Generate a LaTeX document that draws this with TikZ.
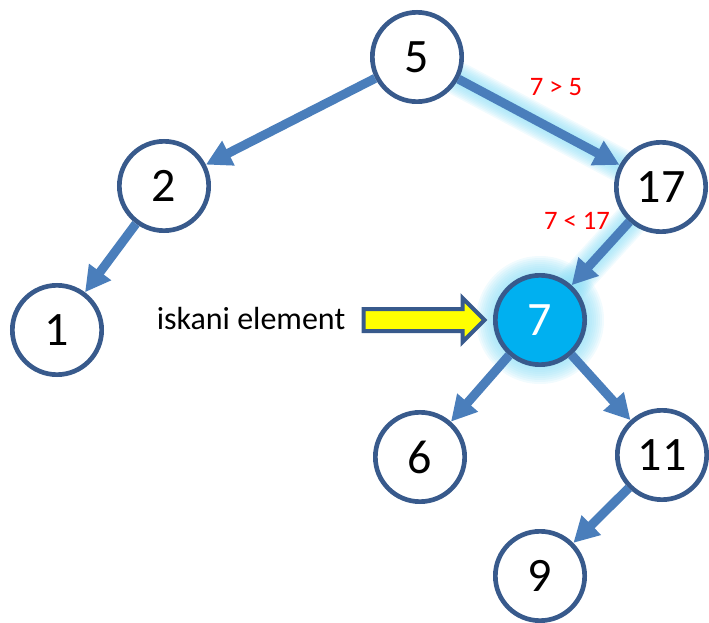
\documentclass[tikz,border=0pt]{standalone}
\usepackage{fontspec}
\setmainfont{Carlito}
\usetikzlibrary{arrows.meta,backgrounds}

\definecolor{ringblue}{RGB}{56,90,140}
\definecolor{edgeblue}{RGB}{74,126,187}
\definecolor{hitblue}{RGB}{0,176,240}
\definecolor{glowcyan}{RGB}{140,222,246}
\definecolor{markyellow}{RGB}{255,255,0}

\tikzset{every picture/.style={line width=0.75pt}}
\tikzset{
  keynode/.style={circle, draw=ringblue, line width=3.5pt, fill=white, minimum size=67pt,
    inner sep=0pt, font=\fontsize{36}{40}\selectfont},
  hitnode/.style={keynode, fill=hitblue, text=white},
  treeedge/.style={draw=edgeblue, line width=6.8pt, -{Triangle[length=19pt,width=19.5pt]}},
  glowedge/.style={draw=glowcyan, line cap=round, line join=round},
  cmplabel/.style={text=red, font=\fontsize{20}{24}\selectfont},
  pointer/.style={draw=ringblue, line width=3pt, fill=markyellow, line join=miter},
}

\begin{document}
\begin{tikzpicture}[x=0.75pt,y=0.75pt,yscale=-1,xscale=1]
\useasboundingbox (0,0) rectangle (709,623);

% Nodes
\node[keynode] (n5) at (417,57) {5};
\node[keynode] (n2) at (164,186) {2};
\node[keynode] (n17) at (661,187) {17};
\node[keynode] (n1) at (57,330) {1};
\node[hitnode] (n7) at (540,320) {7};
\node[keynode] (n6) at (420,457) {6};
\node[keynode] (n11) at (662,455) {11};
\node[keynode] (n9) at (540,576) {9};

% Glow on the search path
\begin{scope}[on background layer]
\foreach \w in {34,31,...,10} {
  \draw[glowedge, line width=\w*0.75pt, opacity=0.12] (n5) -- (n17);
  \draw[glowedge, line width=\w*0.75pt, opacity=0.12] (n17) -- (n7);
}
\foreach \r in {64,62,...,48} {
  \fill[glowcyan, opacity=0.12] (n7) circle[radius=\r];
}
\end{scope}

% Edges
\draw[treeedge] (n5) -- (n2);
\draw[treeedge] (n5) -- (n17);
\draw[treeedge] (n2) -- (n1);
\draw[treeedge] (n17) -- (n7);
\draw[treeedge] (n7) -- (n6);
\draw[treeedge] (n7) -- (n11);
\draw[treeedge] (n11) -- (n9);

% Comparisons
\node[cmplabel] (cmp1) at (556,87) {7 > 5};
\node[cmplabel] (cmp2) at (577,221) {7 < 17};

% Pointer to the found element
\node[font=\fontsize{24}{28}\selectfont] (lbl) at (251,319) {iskani element};
\coordinate (ptr) at ([xshift=10pt]lbl.east |- n7);
\draw[pointer] (ptr) ++(0,-11) -- ++(99,0) -- ++(0,-11) -- ++(22,22) -- ++(-22,22)
  -- ++(0,-11) -- ++(-99,0) -- cycle;

\end{tikzpicture}
\end{document}
